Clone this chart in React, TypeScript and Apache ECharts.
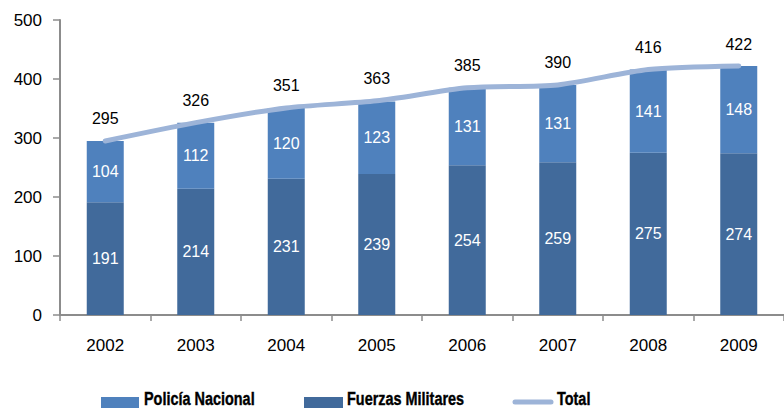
import React, { useEffect, useRef } from "react";
import * as echarts from "echarts";

const years = ["2002", "2003", "2004", "2005", "2006", "2007", "2008", "2009"];
const fuerzasMilitares = [191, 214, 231, 239, 254, 259, 275, 274];
const policiaNacional = [104, 112, 120, 123, 131, 131, 141, 148];
const total = [295, 326, 351, 363, 385, 390, 416, 422];

const C_POL = "#4F81BD";
const C_FM = "#416A9B";
const C_TOT = "#9DB4D8";

export default function App() {
  const ref = useRef<HTMLDivElement>(null);
  useEffect(() => {
    const chart = echarts.init(ref.current!, null, { renderer: "svg" });
    const font = "Liberation Sans, Arial, sans-serif";
    const legendFont = "'Liberation Sans', Arial, sans-serif";
    const legText = (x: number, text: string) => ({
      type: "text", x, y: 399, scaleX: 0.76, originX: 0,
      style: { text, fill: "#000", font: `bold 19px ${legendFont}`, textVerticalAlign: "middle", stroke: "#000", lineWidth: 0.4 },
    });
    chart.setOption({
      animation: false,
      grid: { left: 60, top: 20, width: 734, height: 295, containLabel: false },
      xAxis: {
        type: "category",
        data: years,
        axisLine: { lineStyle: { color: "#8c8c8c", width: 2 } },
        axisTick: { show: true, length: 6, lineStyle: { color: "#8c8c8c", width: 1.5 } },
        axisLabel: { color: "#000", fontSize: 17, fontFamily: font, margin: 22 },
      },
      yAxis: {
        type: "value",
        min: 0,
        max: 500,
        interval: 100,
        splitLine: { show: false },
        axisLine: { show: true, lineStyle: { color: "#8c8c8c", width: 2 } },
        axisTick: { show: true, length: 7, lineStyle: { color: "#8c8c8c", width: 1.5 } },
        axisLabel: { color: "#000", fontSize: 17, fontFamily: font, margin: 18 },
      },
      series: [
        {
          name: "Fuerzas Militares",
          type: "bar",
          stack: "a",
          data: fuerzasMilitares,
          barWidth: 37,
          itemStyle: { color: C_FM },
          label: { show: true, position: "inside", color: "#fff", fontSize: 16, fontFamily: font },
        },
        {
          name: "Policía Nacional",
          type: "bar",
          stack: "a",
          data: policiaNacional,
          barWidth: 37,
          itemStyle: { color: C_POL },
          label: { show: true, position: "inside", color: "#fff", fontSize: 16, fontFamily: font },
        },
        {
          name: "Total",
          type: "line",
          data: total,
          smooth: 0.25,
          showSymbol: true,
          symbol: "circle",
          symbolSize: 2,
          itemStyle: { color: C_TOT },
          lineStyle: { color: C_TOT, width: 5, cap: "round" },
          label: { show: true, position: "top", distance: 13, offset: [4, 0], color: "#000", fontSize: 16, fontFamily: font },
          labelLayout: { hideOverlap: false },
          z: 5,
        },
      ],
      graphic: [
        { type: "rect", shape: { x: 101, y: 397, width: 38, height: 11 }, style: { fill: C_POL } },
        legText(144, "Policía Nacional"),
        { type: "rect", shape: { x: 304, y: 397, width: 39, height: 11 }, style: { fill: C_FM } },
        legText(347, "Fuerzas Militares"),
        {
          type: "line", shape: { x1: 515, y1: 402, x2: 551, y2: 402 },
          style: { stroke: C_TOT, lineWidth: 5, lineCap: "round" },
        },
        legText(557, "Total"),
      ],
    });
    return () => chart.dispose();
  }, []);
  return <div ref={ref} style={{ width: 784, height: 410, position: "absolute", left: 0, top: 0 }} />;
}
